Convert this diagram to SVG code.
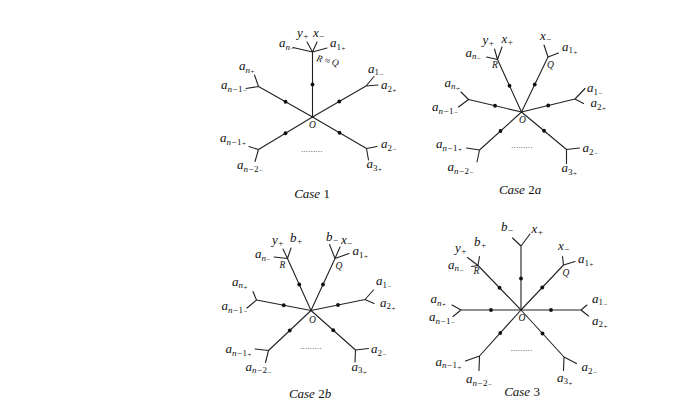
<svg xmlns="http://www.w3.org/2000/svg" width="698" height="406" viewBox="0 0 698 406">
<style>
.e{stroke:#222;stroke-width:1.1;fill:none;stroke-linecap:round}
.d{fill:#111}
.t{font-family:"Liberation Serif","DejaVu Serif",serif;font-style:italic;font-size:13px;fill:#111}
.s{font-size:9px}
.ss{font-size:7px}
.u{font-style:normal}
.sm{font-size:9.5px}
.cap{font-size:13px;text-anchor:middle}
.dots{font-family:"Liberation Serif",serif;font-size:8px;letter-spacing:0.4px;fill:#222;text-anchor:middle}
</style>
<rect width="698" height="406" fill="#fff"/>

<!-- ================= Case 1 ================= -->
<g id="case1">
<g id="c1-connectors" class="e">
<path d="M312.5 117L312.5 52M312.5 52L307 42M312.5 52L317 42M312.5 52L293 47.5M312.5 52L327 48"/>
<path d="M312.5 117L258.5 86.5M258.5 86.5L254.5 75M258.5 86.5L246 88.5"/>
<path d="M312.5 117L366 86M366 86L374 76.5M366 86L378 85"/>
<path d="M312.5 117L258.5 149.5M258.5 149.5L249 146.5M258.5 149.5L255 161.5"/>
<path d="M312.5 117L366.5 148.5M366.5 148.5L377 146.5M366.5 148.5L368.5 160"/>
</g>
<g id="c1-O"><text class="t sm" x="309" y="128">O</text></g>
<g id="c1-m1"><circle class="d" cx="312.5" cy="84.5" r="1.9"/></g>
<g id="c1-m2"><circle class="d" cx="285.5" cy="101.75" r="1.9"/></g>
<g id="c1-m3"><circle class="d" cx="339.25" cy="101.5" r="1.9"/></g>
<g id="c1-m4"><circle class="d" cx="285.5" cy="133.25" r="1.9"/></g>
<g id="c1-m5"><circle class="d" cx="339.5" cy="132.75" r="1.9"/></g>
<g id="c1-RQ">
<text class="t" x="297" y="37">y<tspan class="s" dy="2">+</tspan></text>
<text class="t" x="313" y="37">x<tspan class="s" dy="2">−</tspan></text>
<text class="t" x="279" y="47">a<tspan class="s" dy="2.5">n</tspan><tspan class="ss" dy="1.5">−</tspan></text>
<text class="t" x="330" y="47">a<tspan class="s u" dy="2.5">1</tspan><tspan class="ss" dy="1.5">+</tspan></text>
<text class="t sm" x="316" y="61" transform="rotate(14 316 61)">R ≈ Q</text>
</g>
<g id="c1-ul">
<text class="t" x="239" y="70">a<tspan class="s" dy="2.5">n</tspan><tspan class="ss" dy="1.5">+</tspan></text>
<text class="t" x="221" y="89">a<tspan class="s" dy="2.5">n−<tspan class="u">1</tspan></tspan><tspan class="ss" dy="1.5">−</tspan></text>
</g>
<g id="c1-ur">
<text class="t" x="368" y="72.5">a<tspan class="s u" dy="2.5">1</tspan><tspan class="ss" dy="1.5">−</tspan></text>
<text class="t" x="381" y="89">a<tspan class="s u" dy="2.5">2</tspan><tspan class="ss" dy="1.5">+</tspan></text>
</g>
<g id="c1-ll">
<text class="t" x="220" y="142">a<tspan class="s" dy="2.5">n−<tspan class="u">1</tspan></tspan><tspan class="ss" dy="1.5">+</tspan></text>
<text class="t" x="237" y="169">a<tspan class="s" dy="2.5">n−<tspan class="u">2</tspan></tspan><tspan class="ss" dy="1.5">−</tspan></text>
</g>
<g id="c1-lr">
<text class="t" x="381" y="148">a<tspan class="s u" dy="2.5">2</tspan><tspan class="ss" dy="1.5">−</tspan></text>
<text class="t" x="366.5" y="168">a<tspan class="s u" dy="2.5">3</tspan><tspan class="ss" dy="1.5">+</tspan></text>
</g>
<text class="dots" x="312" y="152">.........</text>
<text class="t cap" x="312" y="198">Case <tspan class="u">1</tspan></text>
</g>

<!-- ================= Case 2a ================= -->
<g id="case2a">
<g id="c2a-connectors" class="e">
<path d="M521.5 112L497.5 59.5M497.5 59.5L494.5 49M497.5 59.5L502 47M497.5 59.5L486.5 57"/>
<path d="M521.5 112L548 57M548 57L544 45M548 57L558.5 53"/>
<path d="M521.5 112L468.5 99.5M468.5 99.5L461 92M468.5 99.5L458.5 107"/>
<path d="M521.5 112L575 99M575 99L585 88.5M575 99L583.5 103.5"/>
<path d="M521.5 112L479.5 150M479.5 150L466.5 148M479.5 150L477 162"/>
<path d="M521.5 112L566.5 149.5M566.5 149.5L579.5 148M566.5 149.5L566.5 163.5"/>
</g>
<g id="c2a-O"><text class="t sm" x="519" y="123">O</text></g>
<g id="c2a-m1"><circle class="d" cx="509.5" cy="85.75" r="1.9"/></g>
<g id="c2a-m2"><circle class="d" cx="534.75" cy="84.5" r="1.9"/></g>
<g id="c2a-m3"><circle class="d" cx="495" cy="105.75" r="1.9"/></g>
<g id="c2a-m4"><circle class="d" cx="548.25" cy="105.5" r="1.9"/></g>
<g id="c2a-m5"><circle class="d" cx="500.5" cy="131" r="1.9"/></g>
<g id="c2a-m6"><circle class="d" cx="544" cy="130.75" r="1.9"/></g>
<g id="c2a-R">
<text class="t" x="482.5" y="44">y<tspan class="s" dy="2">+</tspan></text>
<text class="t" x="501.5" y="42.5">x<tspan class="s" dy="2">+</tspan></text>
<text class="t" x="465.5" y="56.5">a<tspan class="s" dy="2.5">n</tspan><tspan class="ss" dy="1.5">−</tspan></text>
<text class="t sm" x="492" y="68">R</text>
</g>
<g id="c2a-Q">
<text class="t" x="540" y="39.5">x<tspan class="s" dy="2">−</tspan></text>
<text class="t" x="562" y="50.5">a<tspan class="s u" dy="2.5">1</tspan><tspan class="ss" dy="1.5">+</tspan></text>
<text class="t sm" x="547" y="68">Q</text>
</g>
<g id="c2a-l">
<text class="t" x="444.5" y="86.5">a<tspan class="s" dy="2.5">n</tspan><tspan class="ss" dy="1.5">+</tspan></text>
<text class="t" x="432" y="111">a<tspan class="s" dy="2.5">n−<tspan class="u">1</tspan></tspan><tspan class="ss" dy="1.5">−</tspan></text>
</g>
<g id="c2a-r">
<text class="t" x="587" y="92">a<tspan class="s u" dy="2.5">1</tspan><tspan class="ss" dy="1.5">−</tspan></text>
<text class="t" x="590.5" y="107">a<tspan class="s u" dy="2.5">2</tspan><tspan class="ss" dy="1.5">+</tspan></text>
</g>
<g id="c2a-ll">
<text class="t" x="436" y="148">a<tspan class="s" dy="2.5">n−<tspan class="u">1</tspan></tspan><tspan class="ss" dy="1.5">+</tspan></text>
<text class="t" x="447.5" y="171">a<tspan class="s" dy="2.5">n−<tspan class="u">2</tspan></tspan><tspan class="ss" dy="1.5">−</tspan></text>
</g>
<g id="c2a-lr">
<text class="t" x="582.5" y="152">a<tspan class="s u" dy="2.5">2</tspan><tspan class="ss" dy="1.5">−</tspan></text>
<text class="t" x="561.5" y="172">a<tspan class="s u" dy="2.5">3</tspan><tspan class="ss" dy="1.5">+</tspan></text>
</g>
<text class="dots" x="522" y="147.5">.........</text>
<text class="t cap" x="520" y="193.5">Case <tspan class="u">2</tspan>a</text>
</g>

<!-- ================= Case 2b ================= -->
<g id="case2b">
<g id="c2b-connectors" class="e">
<path d="M311 310.5L287.5 258.5M287.5 258.5L283 249M287.5 258.5L291 248M287.5 258.5L274 257"/>
<path d="M311 310.5L335 258.5M335 258.5L329.5 244.5M335 258.5L340 247M335 258.5L349 253.5"/>
<path d="M311 310.5L256.5 300M256.5 300L253 291.5M256.5 300L247 308"/>
<path d="M311 310.5L365 299.5M365 299.5L373.5 290M365 299.5L374 303.5"/>
<path d="M311 310.5L268.5 350.5M268.5 350.5L255 349M268.5 350.5L265.5 362.5"/>
<path d="M311 310.5L355.5 350M355.5 350L368.5 348.5M355.5 350L355 362"/>
</g>
<g id="c2b-O"><text class="t sm" x="309" y="323">O</text></g>
<g id="c2b-m1"><circle class="d" cx="299.25" cy="284.5" r="1.9"/></g>
<g id="c2b-m2"><circle class="d" cx="323" cy="284.5" r="1.9"/></g>
<g id="c2b-m3"><circle class="d" cx="283.75" cy="305.25" r="1.9"/></g>
<g id="c2b-m4"><circle class="d" cx="338" cy="305" r="1.9"/></g>
<g id="c2b-m5"><circle class="d" cx="289.75" cy="330.5" r="1.9"/></g>
<g id="c2b-m6"><circle class="d" cx="333.25" cy="330.25" r="1.9"/></g>
<g id="c2b-R">
<text class="t" x="272" y="244">y<tspan class="s" dy="2">+</tspan></text>
<text class="t" x="290" y="241.5">b<tspan class="s" dy="2">+</tspan></text>
<text class="t" x="255" y="258">a<tspan class="s" dy="2.5">n</tspan><tspan class="ss" dy="1.5">−</tspan></text>
<text class="t sm" x="279.5" y="268">R</text>
</g>
<g id="c2b-Q">
<text class="t" x="326" y="240.5">b<tspan class="s" dy="2">−</tspan></text>
<text class="t" x="341" y="243.5">x<tspan class="s" dy="2">−</tspan></text>
<text class="t" x="352.5" y="255">a<tspan class="s u" dy="2.5">1</tspan><tspan class="ss" dy="1.5">+</tspan></text>
<text class="t sm" x="335.5" y="268.5">Q</text>
</g>
<g id="c2b-l">
<text class="t" x="232" y="285.5">a<tspan class="s" dy="2.5">n</tspan><tspan class="ss" dy="1.5">+</tspan></text>
<text class="t" x="221.5" y="310">a<tspan class="s" dy="2.5">n−<tspan class="u">1</tspan></tspan><tspan class="ss" dy="1.5">−</tspan></text>
</g>
<g id="c2b-r">
<text class="t" x="376" y="285">a<tspan class="s u" dy="2.5">1</tspan><tspan class="ss" dy="1.5">−</tspan></text>
<text class="t" x="380" y="306.5">a<tspan class="s u" dy="2.5">2</tspan><tspan class="ss" dy="1.5">+</tspan></text>
</g>
<g id="c2b-ll">
<text class="t" x="225.5" y="353">a<tspan class="s" dy="2.5">n−<tspan class="u">1</tspan></tspan><tspan class="ss" dy="1.5">+</tspan></text>
<text class="t" x="245.5" y="370.5">a<tspan class="s" dy="2.5">n−<tspan class="u">2</tspan></tspan><tspan class="ss" dy="1.5">−</tspan></text>
</g>
<g id="c2b-lr">
<text class="t" x="371" y="353">a<tspan class="s u" dy="2.5">2</tspan><tspan class="ss" dy="1.5">−</tspan></text>
<text class="t" x="351.5" y="370.5">a<tspan class="s u" dy="2.5">3</tspan><tspan class="ss" dy="1.5">+</tspan></text>
</g>
<text class="dots" x="311" y="348.5">.........</text>
<text class="t cap" x="310" y="398">Case <tspan class="u">2</tspan>b</text>
</g>

<!-- ================= Case 3 ================= -->
<g id="case3">
<g id="c3-connectors" class="e">
<path d="M521 310L521 246M521 246L512.5 238M521 246L530 234"/>
<path d="M521 310L478 265.5M478 265.5L479.5 256.5M478 265.5L467.5 257.5M478 265.5L471.5 266.5"/>
<path d="M521 310L563.5 265M563.5 265L562.5 256.5M563.5 265L575 261.5"/>
<path d="M521 310L461 310M461 310L452 305M461 310L453 316.5"/>
<path d="M521 310L581 310M581 310L587 305M581 310L588.5 316"/>
<path d="M521 310L479.5 356M479.5 356L465.5 361M479.5 356L479 370.5"/>
<path d="M521 310L564 357M564 357L576.5 363.5M564 357L563.5 370.5"/>
</g>
<g id="c3-O"><text class="t sm" x="518.5" y="321">O</text></g>
<g id="c3-m1"><circle class="d" cx="521" cy="278.5" r="1.9"/></g>
<g id="c3-m2"><circle class="d" cx="499.5" cy="287.75" r="1.9"/></g>
<g id="c3-m3"><circle class="d" cx="542.25" cy="287.5" r="1.9"/></g>
<g id="c3-m4"><circle class="d" cx="491" cy="310" r="1.9"/></g>
<g id="c3-m5"><circle class="d" cx="551" cy="310" r="1.9"/></g>
<g id="c3-m6"><circle class="d" cx="500.25" cy="333" r="1.9"/></g>
<g id="c3-m7"><circle class="d" cx="542.5" cy="333.5" r="1.9"/></g>
<g id="c3-top">
<text class="t" x="501" y="230.5">b<tspan class="s" dy="2">−</tspan></text>
<text class="t" x="531.5" y="232.5">x<tspan class="s" dy="2">+</tspan></text>
</g>
<g id="c3-R">
<text class="t" x="455" y="252">y<tspan class="s" dy="2">+</tspan></text>
<text class="t" x="474" y="246">b<tspan class="s" dy="2">+</tspan></text>
<text class="t" x="448" y="268.5">a<tspan class="s" dy="2.5">n</tspan><tspan class="ss" dy="1.5">−</tspan></text>
<text class="t sm" x="473.5" y="274">R</text>
</g>
<g id="c3-Q">
<text class="t" x="558" y="249.5">x<tspan class="s" dy="2">−</tspan></text>
<text class="t" x="578" y="263">a<tspan class="s u" dy="2.5">1</tspan><tspan class="ss" dy="1.5">+</tspan></text>
<text class="t sm" x="562.5" y="276">Q</text>
</g>
<g id="c3-l">
<text class="t" x="430.5" y="303">a<tspan class="s" dy="2.5">n</tspan><tspan class="ss" dy="1.5">+</tspan></text>
<text class="t" x="429" y="321">a<tspan class="s" dy="2.5">n−<tspan class="u">1</tspan></tspan><tspan class="ss" dy="1.5">−</tspan></text>
</g>
<g id="c3-r">
<text class="t" x="592" y="302.5">a<tspan class="s u" dy="2.5">1</tspan><tspan class="ss" dy="1.5">−</tspan></text>
<text class="t" x="592" y="324.5">a<tspan class="s u" dy="2.5">2</tspan><tspan class="ss" dy="1.5">+</tspan></text>
</g>
<g id="c3-ll">
<text class="t" x="435.5" y="365.5">a<tspan class="s" dy="2.5">n−<tspan class="u">1</tspan></tspan><tspan class="ss" dy="1.5">+</tspan></text>
<text class="t" x="466" y="383">a<tspan class="s" dy="2.5">n−<tspan class="u">2</tspan></tspan><tspan class="ss" dy="1.5">−</tspan></text>
</g>
<g id="c3-lr">
<text class="t" x="581.5" y="371">a<tspan class="s u" dy="2.5">2</tspan><tspan class="ss" dy="1.5">−</tspan></text>
<text class="t" x="557" y="381.5">a<tspan class="s u" dy="2.5">3</tspan><tspan class="ss" dy="1.5">+</tspan></text>
</g>
<text class="dots" x="521.5" y="351">.........</text>
<text class="t cap" x="522" y="396">Case <tspan class="u">3</tspan></text>
</g>
</svg>
